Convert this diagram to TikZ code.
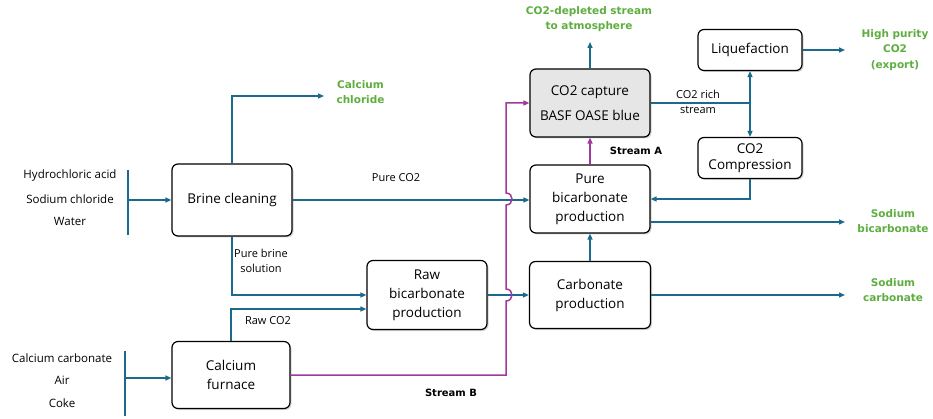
\documentclass[tikz,border=0pt]{standalone}
\usepackage{fontspec}
\setmainfont{Open Sans}
\newfontfamily\prodfont{DejaVu Sans}
\usepackage{tikz}
\usetikzlibrary{positioning,shadows,arrows.meta}

\definecolor{flowblue}{HTML}{1B6A8C}
\definecolor{streammag}{HTML}{A2389E}
\definecolor{prodgreen}{HTML}{5DAE3F}
\definecolor{unitgray}{HTML}{E6E6E6}

\tikzset{
  unit/.style={draw=black, line width=1.2pt, rounded corners=6pt, fill=white,
    align=center, font=\fontsize{13.5}{19}\selectfont,
    drop shadow={opacity=0.35, shadow xshift=1.5pt, shadow yshift=-1.5pt}},
  flow/.style={draw=flowblue, line width=1.4pt, -{Triangle[length=6pt,width=5pt]}},
  plain/.style={draw=flowblue, line width=1.4pt},
  stream/.style={draw=streammag, line width=1.5pt, -{Triangle[length=6pt,width=5pt]}},
  product/.style={text=prodgreen, font=\prodfont\bfseries\fontsize{10.5}{15.5}\selectfont, align=center},
  feed/.style={font=\fontsize{11.5}{14}\selectfont, align=center},
  lbl/.style={font=\fontsize{11}{14.5}\selectfont, align=center},
  tag/.style={font=\prodfont\bfseries\fontsize{10}{12}\selectfont}
}

\begin{document}
\begin{tikzpicture}[x=1pt,y=-1pt]
  \useasboundingbox (0,0) rectangle (933,419);

  % process units
  \node[unit, minimum width=120pt, minimum height=72pt] (brine) at (232,200) {Brine cleaning};
  \node[unit, minimum width=118pt, minimum height=67pt] (furnace) at (231,375) {Calcium\\furnace};
  \node[unit, minimum width=120pt, minimum height=69pt] (rawbicarb) at (427,295) {Raw\\bicarbonate\\production};
  \node[unit, minimum width=121pt, minimum height=67pt] (carbonate) at (590,295) {Carbonate\\production};
  \node[unit, minimum width=120pt, minimum height=68pt] (purebicarb) at (590,199) {Pure\\bicarbonate\\production};
  \node[unit, fill=unitgray, minimum width=120pt, minimum height=68pt] (capture) at (590,103) {CO2 capture\\[6pt]BASF OASE blue};
  \node[unit, minimum width=104pt, minimum height=41pt] (liquef) at (750,50) {Liquefaction};
  \node[unit, minimum width=104pt, minimum height=41pt, font=\fontsize{13.5}{16}\selectfont] (compress) at (750,158) {CO2\\Compression};

  % feeds
  \coordinate (brinein) at (128,200);
  \coordinate (furnin) at (125,378);
  \draw[plain] (128,170) -- (128,235);
  \draw[plain] (125,351) -- (125,416);
  \node[feed] (hcl) at (70,176) {Hydrochloric acid};
  \node[feed] (nacl) at (70,199) {Sodium chloride};
  \node[feed] (water) at (70,221) {Water};
  \node[feed] (caco3) at (62,358) {Calcium carbonate};
  \node[feed] (air) at (62,380) {Air};
  \node[feed] (coke) at (62,403) {Coke};
  \draw[flow] (brinein) -- (brine.west);
  \draw[flow] (furnin) -- (furnace.west |- furnin);

  % products
  \coordinate (cacl2) at (324,96);
  \coordinate (vent) at (590,42);
  \coordinate (export) at (845,50);
  \coordinate (nahco3) at (845,222);
  \coordinate (na2co3) at (845,295);
  \node[product, anchor=west] (cacl2lbl) at (333,92) {Calcium\\chloride};
  \node[product] (ventlbl) at (589,19) {CO2-depleted stream\\to atmosphere};
  \node[product] (exportlbl) at (895,50) {High purity\\CO2\\(export)};
  \node[product] (nahco3lbl) at (893,221) {Sodium\\bicarbonate};
  \node[product] (na2co3lbl) at (893,290) {Sodium\\carbonate};

  % blue connections
  \draw[flow] (brine.north) |- (cacl2);
  \draw[flow] (brine.east) -- (brine.east -| purebicarb.west);
  \draw[flow] (brine.south) |- (rawbicarb.west);
  \draw[flow] (furnace.north) |- ([yshift=-14pt]rawbicarb.west);
  \draw[flow] (rawbicarb.east) -- (carbonate.west);
  \draw[flow] (carbonate.north) -- (purebicarb.south);
  \draw[flow] (capture.north) -- (vent);
  \coordinate (split) at (liquef.south |- capture.east);
  \draw[plain] (capture.east) -- (split);
  \draw[flow] (split) -- (liquef.south);
  \draw[flow] (split) -- (compress.north);
  \draw[flow] (liquef.east) -- (export);
  \draw[flow] (compress.south) |- (purebicarb.east);
  \draw[flow] (purebicarb.east |- nahco3) -- (nahco3);
  \draw[flow] (carbonate.east) -- (na2co3);

  % magenta streams
  \draw[stream] (furnace.east) -| (506,301)
    .. controls (514,301) and (514,289) .. (506,289) -- (506,205)
    .. controls (514,205) and (514,193) .. (506,193) |- (capture.west);
  \draw[stream] (purebicarb.north) -- (capture.south);

  % stream labels
  \node[lbl] (pureco2) at (396,178) {Pure CO2};
  \node[lbl] (brinesol) at (261,261) {Pure brine\\solution};
  \node[lbl] (rawco2) at (268,321) {Raw CO2};
  \node[lbl] (richco2) at (698,102) {CO2 rich\\stream};
  \node[tag] (streama) at (636,151) {Stream A};
  \node[tag] (streamb) at (451,393) {Stream B};
\end{tikzpicture}
\end{document}
